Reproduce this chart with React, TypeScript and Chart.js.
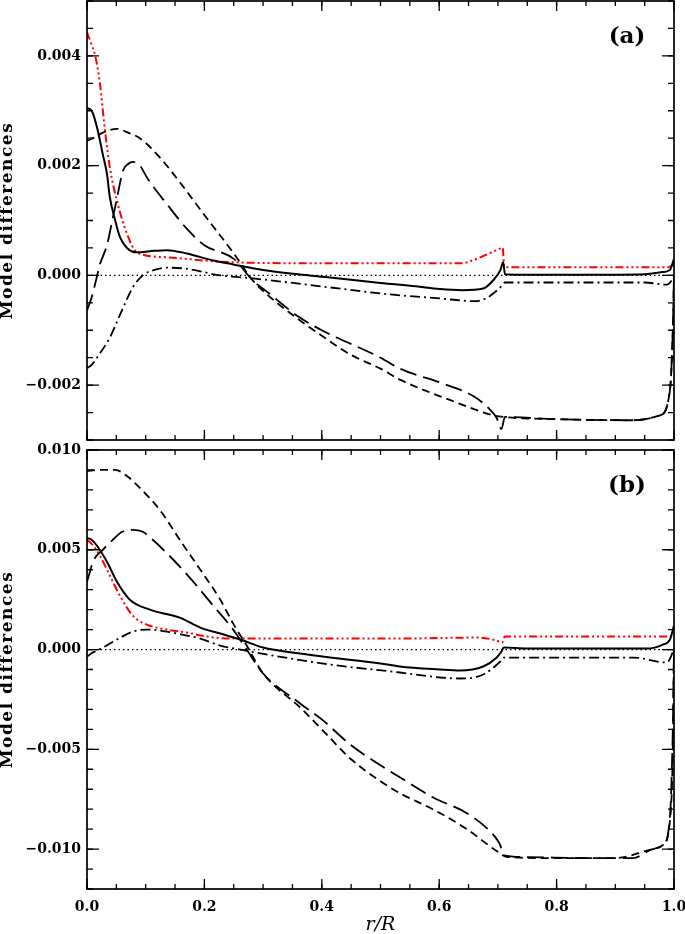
import React, { useEffect, useRef } from 'react';
import { Chart, registerables } from 'chart.js';

Chart.register(...registerables);

const FONT = '"DejaVu Serif", "Liberation Serif", serif';

// ---------- shared axis values ----------
const xTicks = [0, 0.2, 0.4, 0.6, 0.8, 1.0];
const xMinorStep = 0.05;
const yTicksA = [-0.002, 0, 0.002, 0.004];
const yMinorStepA = 0.0005;
const yRangeA = [-0.003, 0.005];
const yTicksB = [-0.01, -0.005, 0, 0.005, 0.01];
const yMinorStepB = 0.001;
const yRangeB = [-0.012, 0.01];
const zeroR = [0, 1];
const zeroV = [0, 0];
const yTitle = 'Model differences';
const xTitle = 'r/R';

// ---------- panel (a) ----------
const solidAr = [0, 0.008, 0.017, 0.027, 0.034, 0.039, 0.048, 0.056, 0.068, 0.085, 0.107, 0.136, 0.17, 0.215, 0.249, 0.3, 0.36, 0.414, 0.5, 0.56, 0.601, 0.639, 0.675, 0.692, 0.704, 0.709, 0.712, 0.75, 0.85, 0.95, 0.981, 0.993, 1.0];
const solidAv = [0.00305, 0.003, 0.0027, 0.0022, 0.00185, 0.00142, 0.001, 0.0007, 0.0005, 0.00042, 0.00044, 0.00046, 0.0004, 0.00027, 0.0002, 0.0001, 0.00002, -0.00004, -0.00014, -0.0002, -0.00025, -0.00027, -0.00024, -0.00009, 0.00009, 0.00024, 0.00002, 0.00001, 0.00001, 0.00002, 0.00006, 0.0001, 0.0003];

const redAr = [0, 0.008, 0.014, 0.022, 0.03, 0.039, 0.051, 0.068, 0.085, 0.136, 0.227, 0.4, 0.5, 0.639, 0.656, 0.681, 0.704, 0.708, 0.711, 0.8, 0.9, 0.99, 1.0];
const redAv = [0.00443, 0.0042, 0.004, 0.0035, 0.0027, 0.00196, 0.00136, 0.00076, 0.00042, 0.00033, 0.00025, 0.00022, 0.00022, 0.00022, 0.00027, 0.00038, 0.00049, 0.00051, 0.00015, 0.00015, 0.00015, 0.00015, 0.0002];

const dashDotAr = [0, 0.008, 0.017, 0.039, 0.061, 0.078, 0.095, 0.115, 0.136, 0.17, 0.227, 0.278, 0.414, 0.5, 0.601, 0.661, 0.683, 0.692, 0.704, 0.709, 0.712, 0.8, 0.95, 0.988, 1.0];
const dashDotAv = [-0.00169, -0.00163, -0.0015, -0.00113, -0.0006, -0.00022, 0.0, 0.0001, 0.00014, 0.00012, 0.0, -0.00005, -0.00022, -0.00033, -0.00042, -0.00047, -0.0004, -0.00033, -0.00022, -0.00015, -0.00013, -0.00013, -0.00013, -0.00017, -0.00004];

const shortAr = [0, 0.01, 0.027, 0.051, 0.07, 0.09, 0.124, 0.158, 0.2, 0.25, 0.283, 0.307, 0.36, 0.4, 0.45, 0.5, 0.533, 0.618, 0.692, 0.709, 0.8, 0.93, 0.976, 0.993, 0.998, 1.0];
const shortAv = [0.00245, 0.0025, 0.0026, 0.00267, 0.0026, 0.0025, 0.00215, 0.0017, 0.0011, 0.0004, -0.0001, -0.00035, -0.0008, -0.0011, -0.00145, -0.0017, -0.0019, -0.00227, -0.00255, -0.00258, -0.00262, -0.00264, -0.00255, -0.0021, -0.001, 0.0];

const longAr = [0, 0.008, 0.014, 0.022, 0.034, 0.045, 0.051, 0.061, 0.07, 0.078, 0.09, 0.104, 0.136, 0.17, 0.2, 0.25, 0.283, 0.307, 0.36, 0.4, 0.5, 0.533, 0.606, 0.658, 0.687, 0.698, 0.706, 0.712, 0.8, 0.93, 0.976, 0.993, 0.998, 1.0];
const longAv = [-0.00064, -0.0004, -0.00015, 0.0002, 0.00055, 0.0011, 0.0014, 0.0019, 0.00203, 0.00207, 0.002, 0.00175, 0.0013, 0.00085, 0.00055, 0.0003, -0.0001, -0.0003, -0.00075, -0.001, -0.0015, -0.0017, -0.00197, -0.0022, -0.00245, -0.0026, -0.0028, -0.00258, -0.00262, -0.00264, -0.00255, -0.0021, -0.001, 0.0];

// ---------- panel (b) ----------
const solidBr = [0, 0.008, 0.017, 0.034, 0.051, 0.073, 0.107, 0.158, 0.193, 0.227, 0.261, 0.3, 0.363, 0.414, 0.5, 0.533, 0.601, 0.635, 0.675, 0.698, 0.706, 0.71, 0.75, 0.85, 0.954, 0.981, 0.993, 1.0];
const solidBv = [0.0056, 0.0055, 0.0052, 0.0044, 0.0034, 0.0025, 0.002, 0.0016, 0.0011, 0.0008, 0.0005, 0.0001, -0.0002, -0.0004, -0.0007, -0.00085, -0.001, -0.00105, -0.00085, -0.0004, -0.0001, 0.0001, 0.00005, 0.00005, 0.00005, 0.00025, 0.0005, 0.0012];

const redBr = [0, 0.008, 0.022, 0.039, 0.056, 0.078, 0.102, 0.136, 0.17, 0.204, 0.249, 0.4, 0.533, 0.664, 0.698, 0.707, 0.712, 0.85, 0.99, 1.0];
const redBv = [0.0055, 0.0053, 0.0047, 0.0037, 0.0027, 0.0017, 0.00125, 0.001, 0.00085, 0.00065, 0.00055, 0.00055, 0.00055, 0.0006, 0.00045, 0.00035, 0.00065, 0.00065, 0.00065, 0.00075];

const dashDotBr = [0, 0.01, 0.027, 0.051, 0.078, 0.102, 0.136, 0.17, 0.193, 0.227, 0.261, 0.278, 0.414, 0.533, 0.601, 0.635, 0.675, 0.704, 0.71, 0.93, 0.988, 1.0];
const dashDotBv = [-0.00035, -0.00015, 0.0001, 0.0005, 0.0009, 0.001, 0.0009, 0.0007, 0.00055, 0.0002, 0.0, -0.0001, -0.00075, -0.00115, -0.0014, -0.00145, -0.00125, -0.0006, -0.0004, -0.0004, -0.00065, 0.0];

const shortBr = [0, 0.02, 0.048, 0.068, 0.09, 0.124, 0.158, 0.193, 0.227, 0.249, 0.272, 0.3, 0.363, 0.4, 0.45, 0.5, 0.533, 0.589, 0.647, 0.698, 0.716, 0.8, 0.9, 0.964, 0.981, 0.993, 0.998, 1.0];
const shortBv = [0.00895, 0.009, 0.009, 0.0087, 0.0081, 0.007, 0.0055, 0.004, 0.0025, 0.0013, 0.0002, -0.0012, -0.0029, -0.004, -0.0055, -0.0066, -0.0072, -0.008, -0.009, -0.0101, -0.0104, -0.01045, -0.01045, -0.01, -0.0098, -0.0086, -0.005, 0.0];

const longBr = [0, 0.005, 0.01, 0.027, 0.044, 0.06, 0.078, 0.095, 0.112, 0.147, 0.181, 0.215, 0.249, 0.272, 0.3, 0.363, 0.4, 0.45, 0.5, 0.533, 0.589, 0.647, 0.683, 0.698, 0.704, 0.709, 0.75, 0.85, 0.93, 0.964, 0.981, 0.993, 0.998, 1.0];
const longBv = [0.0034, 0.0039, 0.0044, 0.005, 0.0055, 0.0059, 0.006, 0.0059, 0.0055, 0.0045, 0.0034, 0.0022, 0.001, 0.0, -0.0012, -0.0027, -0.0035, -0.0048, -0.0058, -0.0064, -0.0074, -0.0082, -0.009, -0.0095, -0.0098, -0.0103, -0.0104, -0.01045, -0.01045, -0.01, -0.0098, -0.0084, -0.004, 0.0];

// ---------- helpers ----------
function pts(rs: number[], vs: number[]) {
  return rs.map((x, i) => ({ x, y: vs[i] }));
}

function fmtY(v: number) {
  const s = Math.abs(v).toFixed(3);
  return v < -1e-12 ? '\u2212' + s : s;
}

const STYLE = {
  dotted: { borderColor: '#000', borderWidth: 1.2, borderDash: [1.5, 3] },
  short: { borderColor: '#000', borderWidth: 1.8, borderDash: [8, 5] },
  long: { borderColor: '#000', borderWidth: 1.8, borderDash: [17, 7] },
  dashDot: { borderColor: '#000', borderWidth: 1.8, borderDash: [10, 4, 2, 4] },
  solid: { borderColor: '#000', borderWidth: 2, borderDash: [] as number[] },
  red: { borderColor: '#ff0000', borderWidth: 2, borderDash: [8, 3, 2, 3, 2, 3, 2, 3] },
};

function ds(data: any[], style: any) {
  return { data, ...style, fill: false, pointRadius: 0, cubicInterpolationMode: 'monotone' };
}

const framePlugin = {
  id: 'frame',
  afterDatasetsDraw(chart: any, _a: any, opts: any) {
    const { ctx, chartArea: a, scales } = chart;
    const xs = scales.x;
    const ys = scales.y;
    ctx.save();
    ctx.strokeStyle = '#000';
    ctx.lineWidth = 1.3;
    const eps = 1e-9;
    const xTick = (v: number, len: number) => {
      const px = xs.getPixelForValue(v);
      ctx.beginPath();
      ctx.moveTo(px, a.bottom);
      ctx.lineTo(px, a.bottom - len);
      ctx.moveTo(px, a.top);
      ctx.lineTo(px, a.top + len);
      ctx.stroke();
    };
    const yTick = (v: number, len: number) => {
      const py = ys.getPixelForValue(v);
      ctx.beginPath();
      ctx.moveTo(a.left, py);
      ctx.lineTo(a.left + len, py);
      ctx.moveTo(a.right, py);
      ctx.lineTo(a.right - len, py);
      ctx.stroke();
    };
    for (let v = xs.min; v <= xs.max + eps; v += opts.xMinor) xTick(v, 5);
    opts.xMajor.forEach((v: number) => xTick(v, 10));
    const start = Math.ceil(ys.min / opts.yMinor - eps) * opts.yMinor;
    for (let v = start; v <= ys.max + eps; v += opts.yMinor) yTick(v, 6);
    opts.yMajor.forEach((v: number) => yTick(v, 12));
    ctx.lineWidth = 1.7;
    ctx.strokeRect(a.left, a.top, a.right - a.left, a.bottom - a.top);
    ctx.fillStyle = '#000';
    // panel label
    ctx.font = `bold 23px ${FONT}`;
    ctx.textAlign = 'center';
    ctx.textBaseline = 'middle';
    ctx.fillText(opts.label, a.right - 47, a.top + 36.5);
    // y-axis title, rotated, slightly letter-spaced
    ctx.save();
    ctx.translate(8, (a.top + a.bottom) / 2);
    ctx.rotate(-Math.PI / 2);
    ctx.font = `bold 17px ${FONT}`;
    try {
      (ctx as any).letterSpacing = '1.5px';
    } catch (e) {}
    ctx.textAlign = 'center';
    ctx.textBaseline = 'middle';
    ctx.fillText(yTitle, 0, 0);
    ctx.restore();
    ctx.restore();
  },
};

function makeConfig(p: any) {
  return {
    type: 'line',
    data: { datasets: p.datasets },
    options: {
      animation: false,
      responsive: false,
      maintainAspectRatio: false,
      devicePixelRatio: 1,
      layout: { padding: p.padding },
      plugins: {
        legend: { display: false },
        tooltip: { enabled: false },
        frame: { label: p.label, xMajor: xTicks, xMinor: xMinorStep, yMajor: p.yTicks, yMinor: p.yMinor },
      },
      scales: {
        x: {
          type: 'linear',
          min: 0,
          max: 1,
          display: p.showX,
          afterBuildTicks: (s: any) => {
            s.ticks = xTicks.map((v) => ({ value: v }));
          },
          afterFit: (s: any) => {
            if (p.showX) s.height = 45;
            else s.height = 0;
            s.paddingLeft = 0;
            s.paddingRight = 0;
          },
          grid: { display: false, drawTicks: false },
          border: { display: false },
          ticks: {
            padding: 10,
            color: '#000',
            autoSkip: false,
            maxRotation: 0,
            font: { family: FONT, size: 14, weight: 'bold' },
            callback: (v: any) => Number(v).toFixed(1),
          },
          title: {
            display: true,
            text: xTitle,
            color: '#000',
            padding: 0,
            font: { family: FONT, size: 19, style: 'italic', lineHeight: 0.9 },
          },
        },
        y: {
          type: 'linear',
          min: p.yRange[0],
          max: p.yRange[1],
          afterBuildTicks: (s: any) => {
            s.ticks = p.yTicks.map((v: number) => ({ value: v }));
          },
          afterFit: (s: any) => {
            s.width = 87;
            s.paddingTop = 0;
            s.paddingBottom = 0;
          },
          grid: { display: false, drawTicks: false },
          border: { display: false },
          ticks: {
            padding: 6,
            color: '#000',
            autoSkip: false,
            font: { family: FONT, size: 14, weight: 'bold' },
            callback: (v: any) => fmtY(Number(v)),
          },
          title: { display: false },
        },
      },
    },
    plugins: [framePlugin],
  };
}

function Panel({ spec, top, height }: { spec: any; top: number; height: number }) {
  const ref = useRef<HTMLCanvasElement | null>(null);
  useEffect(() => {
    if (!ref.current) return;
    const chart = new Chart(ref.current, makeConfig(spec) as any);
    return () => chart.destroy();
  }, [spec]);
  return (
    <canvas
      ref={ref}
      width={685}
      height={height}
      style={{ position: 'absolute', left: 0, top, width: 685, height }}
    />
  );
}

const specA = {
  label: '(a)',
  showX: false,
  padding: { top: 1, right: 11, bottom: 7, left: 0 },
  yRange: yRangeA,
  yTicks: yTicksA,
  yMinor: yMinorStepA,
  datasets: [
    ds(pts(zeroR, zeroV), STYLE.dotted),
    ds(pts(shortAr, shortAv), STYLE.short),
    ds(pts(longAr, longAv), STYLE.long),
    ds(pts(dashDotAr, dashDotAv), STYLE.dashDot),
    ds(pts(solidAr, solidAv), STYLE.solid),
    ds(pts(redAr, redAv), STYLE.red),
  ],
};

const specB = {
  label: '(b)',
  showX: true,
  padding: { top: 9, right: 11, bottom: 0, left: 0 },
  yRange: yRangeB,
  yTicks: yTicksB,
  yMinor: yMinorStepB,
  datasets: [
    ds(pts(zeroR, zeroV), STYLE.dotted),
    ds(pts(shortBr, shortBv), STYLE.short),
    ds(pts(longBr, longBv), STYLE.long),
    ds(pts(dashDotBr, dashDotBv), STYLE.dashDot),
    ds(pts(solidBr, solidBv), STYLE.solid),
    ds(pts(redBr, redBv), STYLE.red),
  ],
};

export default function App() {
  return (
    <div style={{ position: 'absolute', left: 0, top: 0, width: 685, height: 934, background: '#fff', overflow: 'hidden' }}>
      <Panel spec={specA} top={0} height={447} />
      <Panel spec={specB} top={441} height={493} />
    </div>
  );
}
